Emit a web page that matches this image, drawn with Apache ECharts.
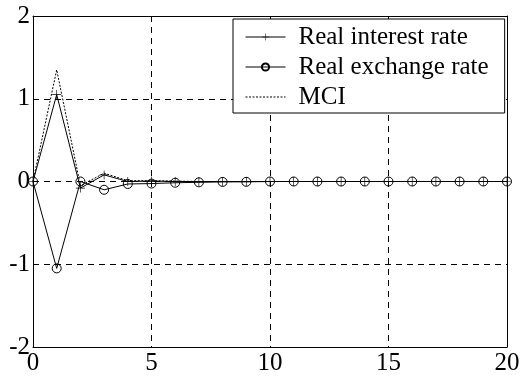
<!DOCTYPE html>
<html>
<head>
<meta charset="utf-8">
<script src="https://cdn.jsdelivr.net/npm/echarts@6/dist/echarts.min.js"></script>
<style>
  html, body { margin: 0; padding: 0; background: #fff; }
  #chart { width: 524px; height: 381px; }
</style>
</head>
<body>
<div id="chart"></div>
<script>
// Impulse responses over 20 periods
const periods = [0, 1, 2, 3, 4, 5, 6, 7, 8, 9, 10, 11, 12, 13, 14, 15, 16, 17, 18, 19, 20];
const realInterestRate = [0, 1.05, -0.08, 0.08, 0.0, 0.005, 0.0, 0.0, 0.0, 0.0, 0.0, 0.0, 0.0, 0.0, 0.0, 0.0, 0.0, 0.0, 0.0, 0.0, 0.0];
const realExchangeRate = [0, -1.05, 0.0, -0.1, -0.03, -0.025, -0.015, -0.01, -0.005, -0.004, 0.0, 0.0, 0.0, 0.0, 0.0, 0.0, 0.0, 0.0, 0.0, 0.0, 0.0];
const mci = [0, 1.35, -0.05, 0.1, 0.01, 0.01, 0.005, 0.0, 0.0, 0.0, 0.0, 0.0, 0.0, 0.0, 0.0, 0.0, 0.0, 0.0, 0.0, 0.0, 0.0];
const seriesNames = ['Real interest rate', 'Real exchange rate', 'MCI'];
const xTicks = { min: 0, max: 20, interval: 5 };
const yTicks = { min: -2, max: 2, interval: 1 };

const pair = (ys) => periods.map((p, i) => [p, ys[i]]);

const FONT = '"Liberation Serif", "DejaVu Serif", serif';
const plusPath = 'path://M-0.07,-1L0.07,-1L0.07,-0.07L1,-0.07L1,0.07L0.07,0.07L0.07,1L-0.07,1L-0.07,0.07L-1,0.07L-1,-0.07L-0.07,-0.07Z';

const gridDash = { color: '#000', width: 1, type: [6, 5] };
const frameLine = { show: true, onZero: false, lineStyle: { color: '#000', width: 1 } };

const chart = echarts.init(document.getElementById('chart'), null, { renderer: 'canvas' });
chart.setOption({
  animation: false,
  backgroundColor: '#fff',
  grid: { left: 33, right: 17, top: 16, bottom: 34, containLabel: false },
  xAxis: [{
    type: 'value', min: xTicks.min, max: xTicks.max, interval: xTicks.interval,
    axisLine: frameLine,
    axisTick: { show: false },
    axisLabel: { color: '#000', fontFamily: FONT, fontSize: 25, margin: 4 },
    splitLine: { show: true, lineStyle: gridDash }
  }, {
    type: 'value', position: 'top', min: xTicks.min, max: xTicks.max, interval: xTicks.interval,
    axisLine: frameLine,
    axisTick: { show: false }, axisLabel: { show: false }, splitLine: { show: false }
  }],
  yAxis: [{
    type: 'value', min: yTicks.min, max: yTicks.max, interval: yTicks.interval,
    axisLine: frameLine,
    axisTick: { show: false },
    axisLabel: { color: '#000', fontFamily: FONT, fontSize: 25, margin: 3 },
    splitLine: { show: true, lineStyle: gridDash }
  }, {
    type: 'value', position: 'right', min: yTicks.min, max: yTicks.max, interval: yTicks.interval,
    axisLine: frameLine,
    axisTick: { show: false }, axisLabel: { show: false }, splitLine: { show: false }
  }],
  legend: {
    orient: 'vertical',
    left: 233, top: 19,
    backgroundColor: '#fff',
    borderColor: '#000', borderWidth: 1,
    padding: [3, 16, 1, 12],
    itemWidth: 40, itemHeight: 9, itemGap: 0,
    lineStyle: { width: 1 },
    textStyle: { color: '#000', fontFamily: FONT, fontSize: 25, lineHeight: 30, padding: [0, 0, 0, 8] },
    data: [
      { name: seriesNames[0] },
      { name: seriesNames[1] },
      { name: seriesNames[2], itemStyle: { opacity: 0 } }
    ],
    z: 10
  },
  series: [{
    name: seriesNames[1], type: 'line', data: pair(realExchangeRate),
    symbol: 'circle', symbolSize: 9,
    lineStyle: { color: '#000', width: 1 },
    itemStyle: { color: 'rgba(255,255,255,0)', borderColor: '#000', borderWidth: 1 },
    z: 3
  }, {
    name: seriesNames[0], type: 'line', data: pair(realInterestRate),
    symbol: plusPath, symbolSize: 9,
    lineStyle: { color: '#000', width: 1 },
    itemStyle: { color: '#000', borderWidth: 0 },
    z: 4
  }, {
    name: seriesNames[2], type: 'line', data: pair(mci),
    symbol: 'none',
    lineStyle: { color: '#000', width: 1, type: [2, 1.5] },
    itemStyle: { color: '#000' },
    z: 2
  }]
});
</script>
</body>
</html>
